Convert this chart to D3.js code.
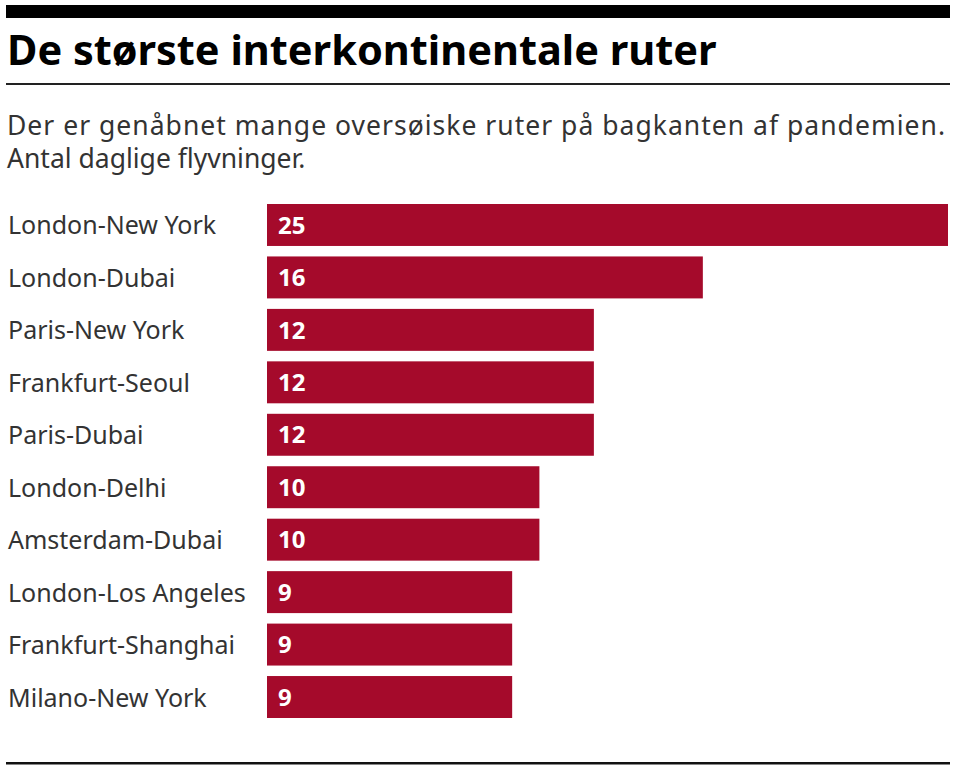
<!DOCTYPE html>
<html><head><meta charset="utf-8">
<script src="https://cdn.jsdelivr.net/npm/d3@7"></script>
<style>body{margin:0;background:#fff;} svg{display:block;}</style>
</head><body>
<script>
const routes = ["London-New York","London-Dubai","Paris-New York","Frankfurt-Seoul","Paris-Dubai","London-Delhi","Amsterdam-Dubai","London-Los Angeles","Frankfurt-Shanghai","Milano-New York"];
const flights = [25,16,12,12,12,10,10,9,9,9];
const title = "De største interkontinentale ruter";
const subtitle = ["Der er genåbnet mange oversøiske ruter på bagkanten af pandemien.","Antal daglige flyvninger."];

const W=960,H=774;
const svg=d3.select("body").append("svg").attr("width",W).attr("height",H);
const font="'Noto Sans', 'Open Sans', sans-serif";

svg.append("rect").attr("x",6).attr("y",5).attr("width",944).attr("height",13).attr("fill","#000");
svg.append("text").attr("x",7).attr("y",65).attr("font-family",font).attr("font-weight",700)
  .attr("font-size",41.5).attr("fill","#000").text(title);
svg.append("rect").attr("x",6).attr("y",83).attr("width",944).attr("height",2).attr("fill","#222");
subtitle.forEach((s,i)=>{
  const t=svg.append("text").attr("x",7).attr("y",135+i*33).attr("font-family",font)
    .attr("font-size",26.5).attr("fill","#333").text(s);
  if(i===0) t.attr("textLength",938).attr("lengthAdjust","spacing");
});

const x=d3.scaleLinear().domain([0,25]).range([267,948]);
const y=d3.scaleBand().domain(routes).range([204,718]).paddingInner(0.2).paddingOuter(0);

const g=svg.append("g");
g.selectAll("text.lab").data(routes).join("text").attr("class","lab")
  .attr("x",8).attr("y",d=>y(d)+y.bandwidth()/2).attr("dy","0.38em")
  .attr("font-family",font).attr("font-size",25).attr("fill","#333").text(d=>d);
g.selectAll("rect.bar").data(flights).join("rect").attr("class","bar")
  .attr("x",x(0)).attr("y",(d,i)=>y(routes[i])).attr("width",d=>x(d)-x(0)).attr("height",y.bandwidth())
  .attr("fill","#a50a2b");
g.selectAll("text.val").data(flights).join("text").attr("class","val")
  .attr("x",x(0)+11).attr("y",(d,i)=>y(routes[i])+y.bandwidth()/2).attr("dy","0.36em")
  .attr("font-family",font).attr("font-weight",700).attr("font-size",24).attr("fill","#fff").text(d=>d);

svg.append("rect").attr("x",6).attr("y",762).attr("width",944).attr("height",2.5).attr("fill","#111");
</script>
</body></html>
